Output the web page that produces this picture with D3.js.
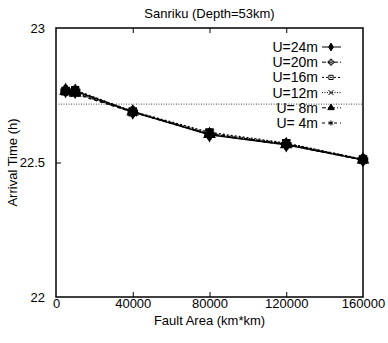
<!DOCTYPE html>
<html lang="en">
<head>
  <meta charset="UTF-8">
  <title>Sanriku (Depth=53km)</title>
  <script src="https://d3js.org/d3.v7.min.js"></script>
  <style>
    body { margin: 0; background: #fff; }
    text { font-family: "Liberation Sans", Arial, sans-serif; fill: #000; }
  </style>
</head>
<body>
  <div id="chart"></div>
  <script>
    const width = 388;
    const height = 343;

    // Datos
    const faultArea = [5000, 10000, 40000, 80000, 120000, 160000];
    const seriesNames = ["U=24m", "U=20m", "U=16m", "U=12m", "U=8m", "U=4m"];
    const u24 = [22.768, 22.765, 22.688, 22.603, 22.566, 22.510];
    const u20 = [22.767, 22.766, 22.689, 22.606, 22.568, 22.511];
    const u16 = [22.766, 22.769, 22.690, 22.612, 22.572, 22.512];
    const u12 = [22.764, 22.760, 22.687, 22.608, 22.570, 22.511];
    const u8  = [22.765, 22.758, 22.688, 22.605, 22.567, 22.510];
    const u4  = [22.766, 22.755, 22.687, 22.604, 22.566, 22.509];
    const refLevel = 22.717;
    const xTicks = [0, 40000, 80000, 120000, 160000];
    const yTicks = [22, 22.5, 23];

    const allSeries = [u24, u20, u16, u12, u8, u4];
    const dashes = [null, "4,2", "2,2", "1,1.5", "4,2,1,2", "3,3"];
    const symbols = [d3.symbolDiamond, d3.symbolCross, d3.symbolSquare, d3.symbolX, d3.symbolTriangle, d3.symbolAsterisk];
    const filled = [true, false, false, false, true, false];

    const margin = { top: 28, right: 26, bottom: 46, left: 56 };
    const x = d3.scaleLinear().domain([0, 160000]).range([margin.left, width - margin.right + 1]);
    const y = d3.scaleLinear().domain([22, 23]).range([height - margin.bottom, margin.top]);

    const svg = d3.select("#chart").append("svg")
      .attr("width", width)
      .attr("height", height);

    // Ejes con ticks hacia adentro
    const fmt = d => d3.format("")(d);
    svg.append("g")
      .attr("transform", `translate(0,${y(22)})`)
      .call(d3.axisBottom(x).tickValues(xTicks).tickSizeInner(-5).tickSizeOuter(0).tickPadding(2).tickFormat(fmt))
      .call(g => g.select(".domain").remove())
      .call(g => g.selectAll("text").attr("font-size", 13))
      .call(g => g.selectAll(".tick").filter(d => d === 0 || d === 160000).select("line").remove());

    svg.append("g")
      .attr("transform", `translate(0,${y(23)})`)
      .call(d3.axisTop(x).tickValues(xTicks.slice(1, -1)).tickSizeInner(-5).tickSizeOuter(0).tickFormat(""))
      .call(g => g.select(".domain").remove());

    svg.append("g")
      .attr("transform", `translate(${x(0)},0)`)
      .call(d3.axisLeft(y).tickValues(yTicks).tickSizeInner(-5).tickSizeOuter(0).tickPadding(11).tickFormat(fmt))
      .call(g => g.select(".domain").remove())
      .call(g => g.selectAll("text").attr("font-size", 13))
      .call(g => g.selectAll(".tick").filter(d => d !== 22.5).select("line").remove());

    svg.append("g")
      .attr("transform", `translate(${x(160000)},0)`)
      .call(d3.axisRight(y).tickValues([22.5]).tickSizeInner(-5).tickSizeOuter(0).tickFormat(""))
      .call(g => g.select(".domain").remove());

    // Marco
    svg.append("rect")
      .attr("x", x(0)).attr("y", y(23))
      .attr("width", x(160000) - x(0)).attr("height", y(22) - y(23))
      .attr("fill", "none").attr("stroke", "#000").attr("stroke-width", 1.5);

    // Linea de referencia punteada
    svg.append("line")
      .attr("x1", x(0)).attr("x2", x(160000))
      .attr("y1", y(refLevel)).attr("y2", y(refLevel))
      .attr("stroke", "#444").attr("stroke-width", 1).attr("stroke-dasharray", "1,1.5");

    // Series
    const line = d3.line().x((d, i) => x(faultArea[i])).y(d => y(d));
    allSeries.forEach((vals, k) => {
      svg.append("path")
        .attr("d", line(vals))
        .attr("fill", "none")
        .attr("stroke", "#000")
        .attr("stroke-width", 1.3)
        .attr("stroke-dasharray", dashes[k]);
      svg.selectAll(null).data(vals).enter().append("path")
        .attr("transform", (d, i) => `translate(${x(faultArea[i])},${y(d)})`)
        .attr("d", d3.symbol().type(symbols[k]).size(45))
        .attr("fill", "#000")
        .attr("stroke", "#000")
        .attr("stroke-width", 1.5);
    });

    // Leyenda
    const legend = svg.append("g");
    seriesNames.forEach((name, k) => {
      const ly = 47 + k * 15.2;
      legend.append("text")
        .attr("x", 318).attr("y", ly).attr("dy", "0.35em")
        .attr("text-anchor", "end").attr("font-size", 14)
        .attr("xml:space", "preserve")
        .text(name.replace("U=", "U=" + (name.length === 4 ? " " : "")));
      legend.append("line")
        .attr("x1", 322).attr("x2", 341).attr("y1", ly).attr("y2", ly)
        .attr("stroke", "#000").attr("stroke-width", 1)
        .attr("stroke-dasharray", dashes[k]);
      legend.append("path")
        .attr("transform", `translate(331,${ly})`)
        .attr("d", d3.symbol().type(symbols[k]).size(18))
        .attr("fill", filled[k] ? "#000" : "none")
        .attr("stroke", "#000").attr("stroke-width", 1);
    });

    // Titulos
    svg.append("text")
      .attr("x", (x(0) + x(160000)) / 2).attr("y", 13).attr("dy", "0.35em")
      .attr("text-anchor", "middle").attr("font-size", 13)
      .text("Sanriku (Depth=53km)");

    svg.append("text")
      .attr("x", (x(0) + x(160000)) / 2).attr("y", 320).attr("dy", "0.35em")
      .attr("text-anchor", "middle").attr("font-size", 13)
      .text("Fault Area (km*km)");

    svg.append("text")
      .attr("transform", `translate(12,${y(22.5)}) rotate(-90)`)
      .attr("dy", "0.35em")
      .attr("text-anchor", "middle").attr("font-size", 13)
      .text("Arrival Time (h)");
  </script>
</body>
</html>
